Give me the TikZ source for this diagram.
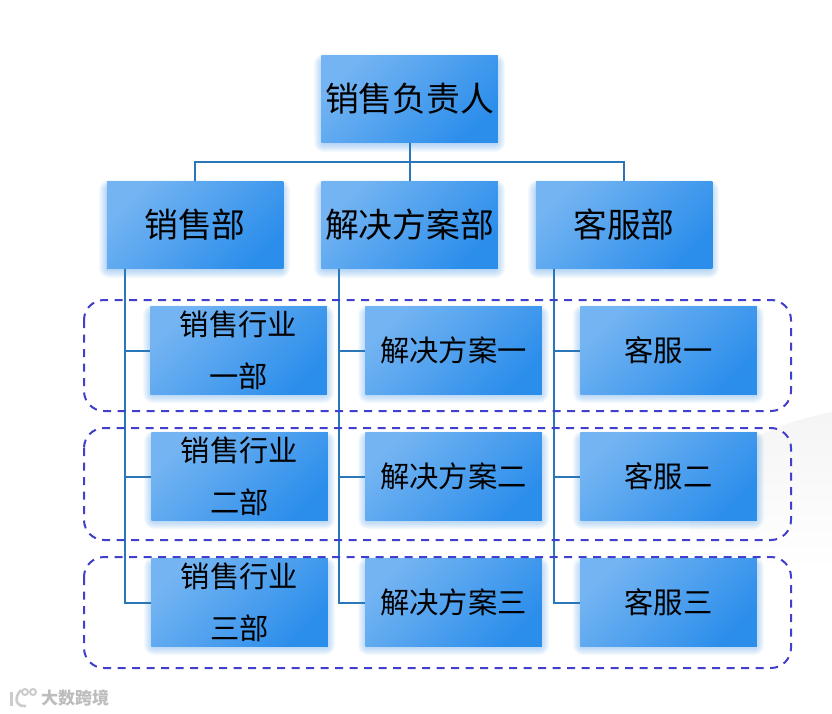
\documentclass[tikz,border=0pt]{standalone}
\usepackage{fontspec}
\setmainfont{Noto Sans CJK SC}
\usepackage{xcolor}
\usepackage{tikz}
\usetikzlibrary{calc}

\definecolor{boxlight}{HTML}{74B4F2}
\definecolor{boxdark}{HTML}{2C8EEB}
\definecolor{linkblue}{HTML}{2A76BA}
\definecolor{groupblue}{HTML}{4040CC}
\definecolor{glowblue}{HTML}{5AA5EE}

\tikzset{
	box/.style={minimum width=176.5, minimum height=87.5, inner sep=0, align=center,
		top color=boxlight, bottom color=boxdark, shading angle=45},
	bigbox/.style={box, font=\fontsize{33.8}{40}\selectfont},
	smallbox/.style={box, font=\fontsize{29.3}{52}\selectfont},
	link/.style={draw=linkblue, line width=2},
	group/.style={draw=groupblue, line width=2, dash pattern=on 8 off 6.5, rounded corners=20},
}

\begin{document}
\begin{tikzpicture}[x=1pt,y=-1pt]

\useasboundingbox (0,0) rectangle (832,714);
\fill[white] (0,0) rectangle (832,714);

% faint shape behind the right side
\shade[top color=black!4, bottom color=white] (690,475) .. controls (730,445) and (780,422) .. (832,412)
	-- (832,570) -- (690,570) -- cycle;

% glow under the boxes
\foreach \x/\y in {321/55, 106/181, 321/181, 535/181, 150/306, 365/306, 580/306, 151/432, 365/432, 580/432, 151/558, 365/558, 580/558}{
	\foreach \r in {1,2,...,10}{
		\fill[glowblue, opacity=0.06, rounded corners=\r] (\x+3-\r,\y+9-\r) rectangle (\x+174+\r,\y+87+\r);
	}
}

% top level
\node[bigbox] (head) at (409.5,99) {销售负责人};
\node[bigbox] (sales) at (195,225) {销售部};
\node[bigbox] (solution) at (409.5,225) {解决方案部};
\node[bigbox] (service) at (624,225) {客服部};

% rows
\node[smallbox] (salesa) at (238.5,350.5) {销售行业\\一部};
\node[smallbox] (salesb) at (239.5,476.5) {销售行业\\二部};
\node[smallbox] (salesc) at (239.5,602.5) {销售行业\\三部};

\node[smallbox] (solutiona) at (453.5,350.5) {解决方案一};
\node[smallbox] (solutionb) at (453.5,476.5) {解决方案二};
\node[smallbox] (solutionc) at (453.5,602.5) {解决方案三};

\node[smallbox] (servicea) at (668.5,350.5) {客服一};
\node[smallbox] (serviceb) at (668.5,476.5) {客服二};
\node[smallbox] (servicec) at (668.5,602.5) {客服三};

% connectors
\coordinate (fork) at (409.5,162);
\draw[link] (head.south) -- (fork);
\foreach \a in {sales,solution,service}{
	\draw[link] (fork) -| (\a.north);
}

\foreach \a in {sales,solution,service}{
	\foreach \b in {a,b,c}{
		\draw[link] ($(\a.south west)+(18,0)$) |- (\a\b.west);
	}
}

% dashed groups
\draw[group] (84,300) rectangle (791,411);
\draw[group] (84,428) rectangle (791,540);
\draw[group] (84,557) rectangle (791,668);

% watermark
\node[text=black!26, font=\bfseries\fontsize{17}{18}\selectfont] (mark) at (75,698) {大数跨境};
\draw[black!20, line width=3] (11,692) -- (11,706);
\draw[black!20, line width=2.6] (21,690) .. controls (14,697) and (15,707) .. (26,706);
\draw[black!20, line width=2] (25,692) circle (3);
\draw[black!20, line width=2] (33,692) circle (3);

\end{tikzpicture}
\end{document}
